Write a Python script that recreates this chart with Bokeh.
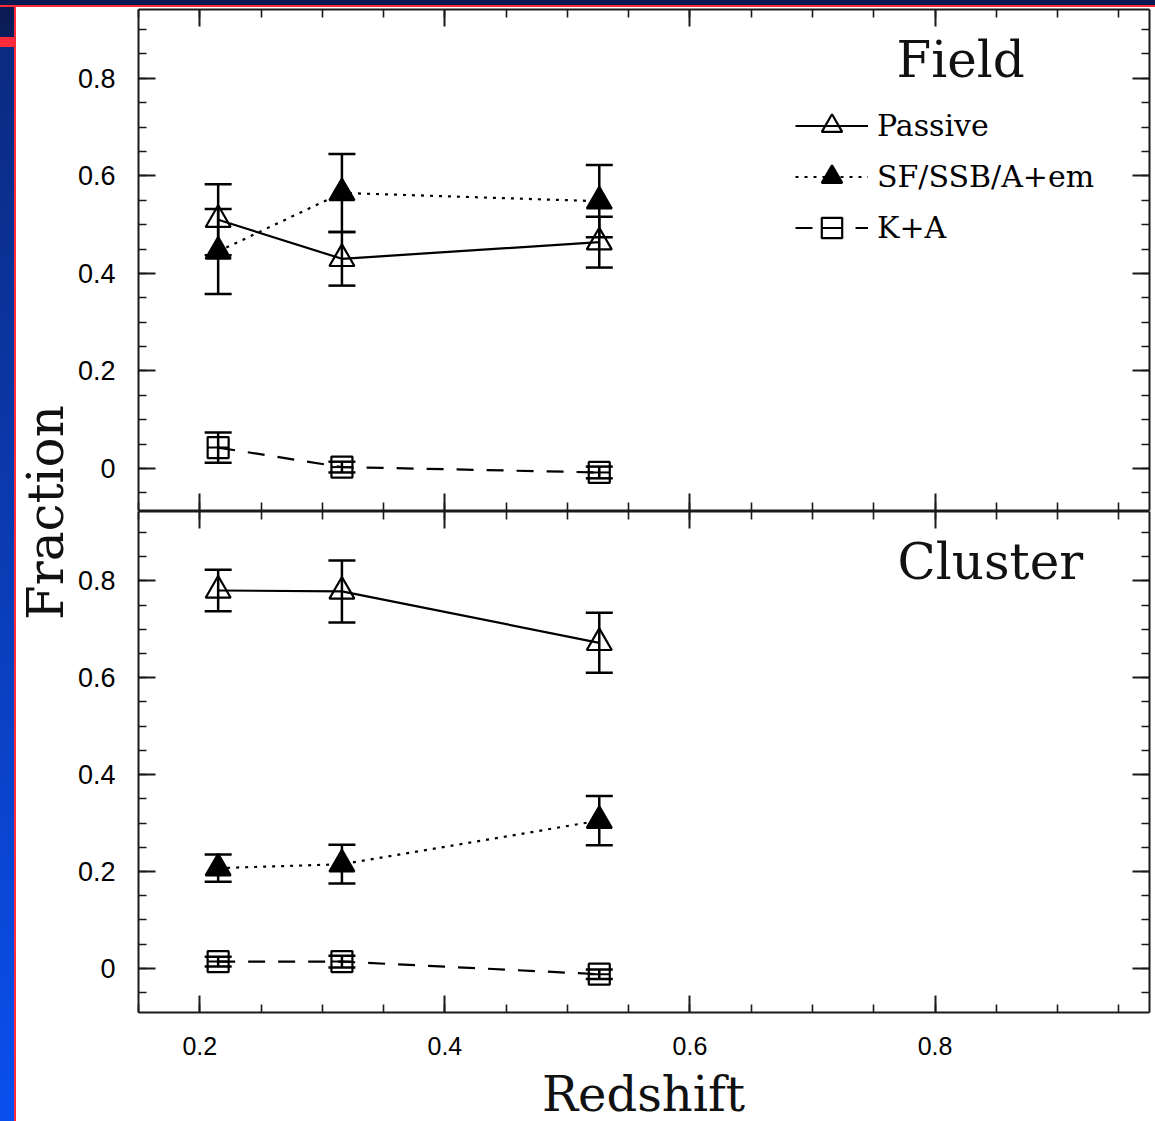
import numpy as np
from bokeh.plotting import figure
from bokeh.models import (LinearAxis, FixedTicker, Whisker, TeeHead, ColumnDataSource,
                          Legend, LegendItem, Label, Div, Range1d, CustomLabelingPolicy)
from bokeh.layouts import row, column
from bokeh.embed import file_html
from bokeh.resources import INLINE

# ---------------- data ----------------
redshift = [0.215, 0.316, 0.526]

field_passive = [0.510, 0.430, 0.464]
field_passive_err = [0.073, 0.055, 0.052]
field_sf = [0.445, 0.565, 0.548]
field_sf_err = [0.087, 0.080, 0.074]
field_ka = [0.043, 0.003, -0.008]
field_ka_err = [0.031, 0.011, 0.012]

cluster_passive = [0.780, 0.778, 0.672]
cluster_passive_err = [0.043, 0.064, 0.062]
cluster_sf = [0.207, 0.215, 0.305]
cluster_sf_err = [0.028, 0.040, 0.051]
cluster_ka = [0.014, 0.014, -0.012]
cluster_ka_err = [0.010, 0.012, 0.010]

series_names = ["Passive", "SF/SSB/A+em", "K+A"]
panel_names = ["Field", "Cluster"]
x_title = "Redshift"
y_title = "Fraction"

x_ticks = [0.2, 0.4, 0.6, 0.8]
x_tick_labels = ["0.2", "0.4", "0.6", "0.8"]
y_ticks = [0.0, 0.2, 0.4, 0.6, 0.8]
y_tick_labels = ["0", "0.2", "0.4", "0.6", "0.8"]
x_minor = [round(v, 2) for v in np.arange(0.15, 0.99, 0.05)]
y_minor = [round(v, 2) for v in np.arange(-0.1, 0.96, 0.05)]

AX_COLOR = "#1a1a1a"
SERIF = "DejaVu Serif"
SANS = "Liberation Sans"

HIDE_LABELS = "for (const i of indices) { indices.unset(i) }\nreturn indices"


def make_axis(ticks, minor, labels, show, size="27px", standoff=23):
    ax = LinearAxis(ticker=FixedTicker(ticks=ticks, minor_ticks=minor))
    ax.major_tick_in = 17
    ax.major_tick_out = 0
    ax.minor_tick_in = 8
    ax.minor_tick_out = 0
    ax.axis_line_width = 2
    ax.major_tick_line_width = 2
    ax.minor_tick_line_width = 1.6
    ax.axis_line_color = AX_COLOR
    ax.major_tick_line_color = AX_COLOR
    ax.minor_tick_line_color = AX_COLOR
    if show:
        ax.major_label_overrides = {t: l for t, l in zip(ticks, labels)}
        ax.major_label_text_font = SANS
        ax.major_label_text_font_size = size
        ax.major_label_text_color = "black"
        ax.major_label_standoff = standoff
    else:
        ax.major_label_text_font_size = "0px"
        ax.major_label_standoff = 0
        ax.major_label_policy = CustomLabelingPolicy(code=HIDE_LABELS)
    return ax


def make_panel(height, y_lo, y_hi, mb_top, mb_bottom, show_x):
    p = figure(width=1081, height=height,
               x_range=Range1d(0.15, 0.975), y_range=Range1d(y_lo, y_hi),
               output_backend="svg", toolbar_location=None,
               x_axis_location=None, y_axis_location=None,
               min_border_left=64, min_border_right=6,
               min_border_top=mb_top, min_border_bottom=mb_bottom)
    p.grid.grid_line_color = None
    p.outline_line_color = None
    p.background_fill_color = "white"
    p.border_fill_color = "white"
    p.add_layout(make_axis(y_ticks, y_minor, y_tick_labels, True), "left")
    p.add_layout(make_axis(y_ticks, y_minor, y_tick_labels, False), "right")
    p.add_layout(make_axis(x_ticks, x_minor, x_tick_labels, False), "above")
    p.add_layout(make_axis(x_ticks, x_minor, x_tick_labels, show_x,
                           size="25px", standoff=24), "below")
    return p


def add_series(p, vals, errs, marker, filled, dash, size):
    src = ColumnDataSource(dict(
        z=redshift, v=vals,
        lo=[v - e for v, e in zip(vals, errs)],
        hi=[v + e for v, e in zip(vals, errs)]))
    ln = p.line("z", "v", source=src, line_color="black", line_width=2.2,
                line_dash=dash, line_cap="butt")
    renderers = [ln]
    sc = p.scatter("z", "v", source=src, marker=marker, size=size,
                   fill_color="black" if filled else None,
                   line_color="black", line_width=2.2)
    renderers.append(sc)
    if marker == "square":
        dsh = p.scatter("z", "v", source=src, marker="dash", size=size,
                        line_color="black", line_width=2)
        renderers.append(dsh)
    w = Whisker(source=src, base="z", lower="lo", upper="hi", dimension="height",
                line_color="black", line_width=2.5,
                lower_head=TeeHead(size=27, line_width=2.5, line_color="black"),
                upper_head=TeeHead(size=27, line_width=2.5, line_color="black"))
    p.add_layout(w)
    return renderers


def text_figure(width, height):
    f = figure(width=width, height=height, output_backend="svg", toolbar_location=None,
               x_axis_location=None, y_axis_location=None,
               min_border_left=0, min_border_right=0, min_border_top=0, min_border_bottom=0,
               x_range=Range1d(0, 1), y_range=Range1d(0, 1))
    f.grid.grid_line_color = None
    f.outline_line_color = None
    f.border_fill_color = "white"
    f.background_fill_color = "white"
    return f


# ---------------- top panel (Field) ----------------
top = make_panel(504, -0.086, 0.941, 2, 1, False)
r_p = add_series(top, field_passive, field_passive_err, "triangle", False, "solid", 25)
r_s = add_series(top, field_sf, field_sf_err, "triangle", True, "3 6", 25)
r_k = add_series(top, field_ka, field_ka_err, "square", False, "17 13", 21)

legend = Legend(items=[LegendItem(label=series_names[0], renderers=r_p),
                       LegendItem(label=series_names[1], renderers=r_s),
                       LegendItem(label=series_names[2], renderers=r_k)],
                location=(657, 257), orientation="vertical",
                glyph_width=73, glyph_height=51, label_height=51, spacing=0,
                label_standoff=9, padding=0, margin=0,
                label_text_font=SERIF, label_text_font_size="30px",
                label_text_color="black", label_text_baseline="middle",
                border_line_color=None, background_fill_alpha=0)
top.add_layout(legend, "center")

top.add_layout(Label(x=758, y=451, x_units="screen", y_units="screen",
                     text=panel_names[0], text_font=SERIF, text_font_size="50px",
                     text_color="#111", text_baseline="alphabetic", text_align="left"))

# ---------------- bottom panel (Cluster) ----------------
bot = make_panel(555, -0.091, 0.943, 0, 54, True)
add_series(bot, cluster_passive, cluster_passive_err, "triangle", False, "solid", 25)
add_series(bot, cluster_sf, cluster_sf_err, "triangle", True, "3 6", 25)
add_series(bot, cluster_ka, cluster_ka_err, "square", False, "17 13", 21)

bot.add_layout(Label(x=759, y=451, x_units="screen", y_units="screen",
                     text=panel_names[1], text_font=SERIF, text_font_size="50px",
                     text_color="#111", text_baseline="alphabetic", text_align="left"))

# ---------------- axis titles ----------------
xlab = text_figure(1081, 55)
xlab.add_layout(Label(x=505, y=28, x_units="screen", y_units="screen",
                      text=x_title, text_font=SERIF, text_font_size="48px",
                      text_color="#111", text_align="center", text_baseline="middle"))

ylab = text_figure(58, 1114)
ylab.add_layout(Label(x=29, y=609, x_units="screen", y_units="screen", angle=np.pi / 2,
                      text=y_title, text_font=SERIF, text_font_size="50px",
                      text_color="#111", text_align="center", text_baseline="middle"))

# ---------------- decorative slide frame ----------------
top_strip = Div(text="", width=1155, height=7, margin=0, styles={
    "background": "linear-gradient(to bottom, #0b1a52 0px, #0b1a52 5px, #ff2b3b 5px, #ff2b3b 7px)"})
left_strip = Div(text="", width=14, height=1114, margin=0, styles={
    "background": "linear-gradient(to bottom, #0b1a52 0px, #0b1d5c 30px, #ff2b3b 30px, "
                  "#ff2b3b 40px, #0b2a80 40px, #0a4fee 100%)"})
red_line = Div(text="", width=2, height=1114, margin=0, styles={"background": "#ff2b3b"})

layout = column(top_strip,
                row(left_strip, red_line, ylab, column(top, bot, xlab, spacing=0), spacing=0),
                spacing=0)

open("out.html", "w").write(file_html(layout, INLINE))
